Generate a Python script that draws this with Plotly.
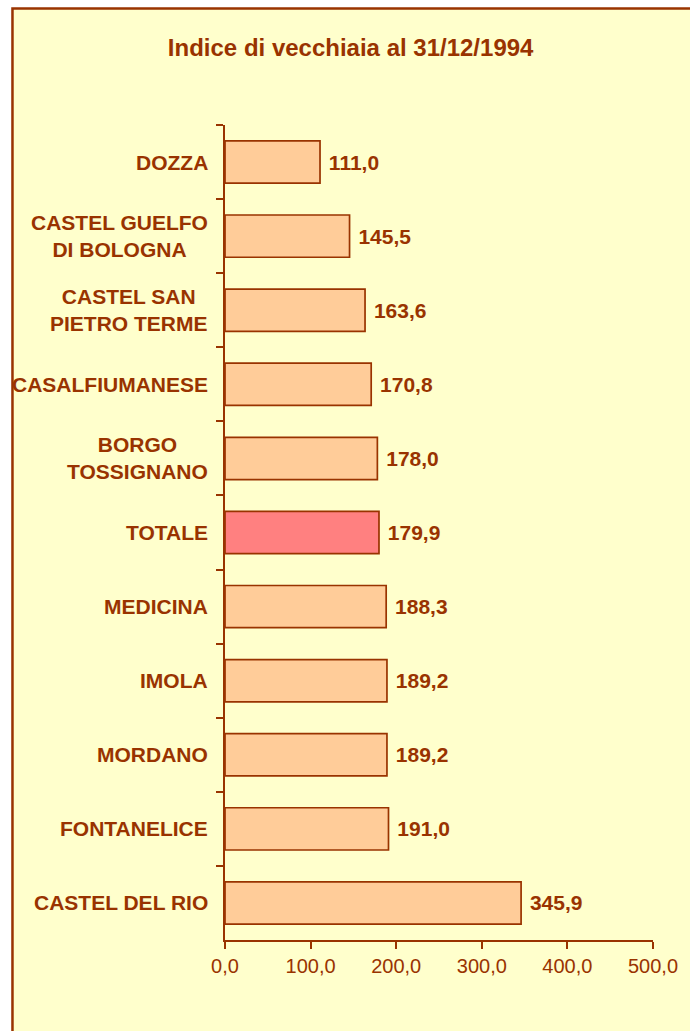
import plotly.graph_objects as go

categories = ["DOZZA", "CASTEL GUELFO<br>DI BOLOGNA", "CASTEL SAN<br>PIETRO TERME",
              "CASALFIUMANESE", "BORGO<br>TOSSIGNANO", "TOTALE", "MEDICINA",
              "IMOLA", "MORDANO", "FONTANELICE", "CASTEL DEL RIO"]
values = [111.0, 145.5, 163.6, 170.8, 178.0, 179.9, 188.3, 189.2, 189.2, 191.0, 345.9]
x_ticks = [0, 100, 200, 300, 400, 500]

DARK = "#993300"
BAR = "#FFCC99"
TOT = "#FF8080"
BG = "#FFFFCC"
FONT = "Liberation Sans"

colors = [TOT if c == "TOTALE" else BAR for c in categories]

fig = go.Figure()
fig.add_trace(go.Bar(
    y=categories, x=values, orientation="h",
    marker=dict(color=colors, line=dict(color=DARK, width=1.7)),
    text=values, texttemplate="\u00a0%{x:.1f}", textposition="outside",
    textfont=dict(family=FONT, size=21, color=DARK, weight="bold"),
    cliponaxis=False, width=0.57,
))

annotations = []
for c in categories:
    annotations.append(dict(
        x=0, xref="paper", y=c, yref="y", text=c, showarrow=False,
        xanchor="right", yanchor="middle", align="center", xshift=-15,
        font=dict(family=FONT, size=21, color=DARK, weight="bold"),
    ))

fig.update_layout(
    width=690, height=1031, autosize=False,
    margin=dict(l=225, r=29, t=125, b=91),
    paper_bgcolor="white", plot_bgcolor="rgba(0,0,0,0)",
    separators=", ",
    showlegend=False,
    title=dict(text="Indice di vecchiaia al 31/12/1994", x=(353 - 225) / 436, xref="paper",
               xanchor="center", y=1 - 48 / 1031, yref="container", yanchor="middle",
               font=dict(family=FONT, size=24, color=DARK, weight="bold")),
    xaxis=dict(range=[0, 500], tickvals=x_ticks, tickformat=".1f",
               showgrid=False, zeroline=False, showline=True, linecolor=DARK, linewidth=2,
               ticks="outside", ticklen=7, tickwidth=2, tickcolor=DARK,
               tickfont=dict(family=FONT, size=20, color=DARK)),
    yaxis=dict(autorange="reversed", showgrid=False, zeroline=False, showline=True,
               linecolor=DARK, linewidth=2, ticks="outside", ticklen=7, tickwidth=2,
               tickcolor=DARK, tickson="boundaries", showticklabels=False),
    annotations=annotations,
    shapes=[dict(type="rect", xref="paper", yref="paper",
                 x0=(8.5 - 225) / 436, x1=2, y0=-1, y1=1 + (125 - 8.5) / 815,
                 fillcolor=BG, line=dict(color=DARK, width=2.5), layer="below")],
)

fig.write_html(
    "out.html",
    config={"responsive": False, "displayModeBar": False},
    post_script="document.body.style.margin='0';document.body.style.padding='0';"
                "document.body.style.overflow='hidden';"
                "document.documentElement.style.overflow='hidden';",
)
